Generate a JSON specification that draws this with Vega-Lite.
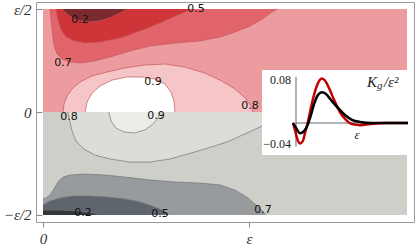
{
  "$schema": "https://vega.github.io/schema/vega-lite/v6.json",
  "width": 378,
  "height": 220,
  "padding": {"left": 36, "top": 2, "right": 1, "bottom": 24},
  "autosize": {"type": "none"},
  "background": "white",
  "config": {"view": {"stroke": "#9a9a9a", "strokeWidth": 1}},
  "datasets": {
    "one": [{}],
    "contours": [
      {"c":"U07","x":0.034,"y":0.5},{"c":"U07","x":0.039,"y":0.447},{"c":"U07","x":0.044,"y":0.398},{"c":"U07","x":0.053,"y":0.325},{"c":"U07","x":0.068,"y":0.282},{"c":"U07","x":0.092,"y":0.257},{"c":"U07","x":0.131,"y":0.243},{"c":"U07","x":0.180,"y":0.238},{"c":"U07","x":0.252,"y":0.248},{"c":"U07","x":0.325,"y":0.267},{"c":"U07","x":0.422,"y":0.296},{"c":"U07","x":0.519,"y":0.320},{"c":"U07","x":0.641,"y":0.335},{"c":"U07","x":0.762,"y":0.345},{"c":"U07","x":0.859,"y":0.364},{"c":"U07","x":0.932,"y":0.388},{"c":"U07","x":1.005,"y":0.417},{"c":"U07","x":1.063,"y":0.451},{"c":"U07","x":1.112,"y":0.485},{"c":"U07","x":1.136,"y":0.5},
      {"c":"U05","x":0.063,"y":0.5},{"c":"U05","x":0.073,"y":0.447},{"c":"U05","x":0.087,"y":0.398},{"c":"U05","x":0.112,"y":0.364},{"c":"U05","x":0.155,"y":0.345},{"c":"U05","x":0.204,"y":0.335},{"c":"U05","x":0.277,"y":0.340},{"c":"U05","x":0.374,"y":0.359},{"c":"U05","x":0.471,"y":0.393},{"c":"U05","x":0.568,"y":0.432},{"c":"U05","x":0.655,"y":0.471},{"c":"U05","x":0.723,"y":0.5},
      {"c":"U02","x":0.092,"y":0.5},{"c":"U02","x":0.121,"y":0.471},{"c":"U02","x":0.160,"y":0.447},{"c":"U02","x":0.218,"y":0.437},{"c":"U02","x":0.277,"y":0.442},{"c":"U02","x":0.335,"y":0.461},{"c":"U02","x":0.383,"y":0.485},{"c":"U02","x":0.408,"y":0.5},
      {"c":"U08","x":0.097,"y":0},{"c":"U08","x":0.102,"y":0.039},{"c":"U08","x":0.117,"y":0.078},{"c":"U08","x":0.141,"y":0.112},{"c":"U08","x":0.180,"y":0.146},{"c":"U08","x":0.238,"y":0.175},{"c":"U08","x":0.311,"y":0.194},{"c":"U08","x":0.398,"y":0.214},{"c":"U08","x":0.495,"y":0.228},{"c":"U08","x":0.592,"y":0.233},{"c":"U08","x":0.689,"y":0.218},{"c":"U08","x":0.786,"y":0.189},{"c":"U08","x":0.869,"y":0.150},{"c":"U08","x":0.932,"y":0.112},{"c":"U08","x":0.981,"y":0.068},{"c":"U08","x":1.010,"y":0.029},{"c":"U08","x":1.019,"y":0},
      {"c":"U09","x":0.204,"y":0},{"c":"U09","x":0.214,"y":0.049},{"c":"U09","x":0.238,"y":0.092},{"c":"U09","x":0.277,"y":0.126},{"c":"U09","x":0.335,"y":0.155},{"c":"U09","x":0.408,"y":0.170},{"c":"U09","x":0.481,"y":0.170},{"c":"U09","x":0.544,"y":0.160},{"c":"U09","x":0.592,"y":0.136},{"c":"U09","x":0.621,"y":0.097},{"c":"U09","x":0.636,"y":0.053},{"c":"U09","x":0.641,"y":0},
      {"c":"L08","x":0.121,"y":0},{"c":"L08","x":0.131,"y":-0.049},{"c":"L08","x":0.141,"y":-0.092},{"c":"L08","x":0.160,"y":-0.141},{"c":"L08","x":0.199,"y":-0.180},{"c":"L08","x":0.252,"y":-0.209},{"c":"L08","x":0.325,"y":-0.228},{"c":"L08","x":0.422,"y":-0.243},{"c":"L08","x":0.519,"y":-0.243},{"c":"L08","x":0.617,"y":-0.228},{"c":"L08","x":0.738,"y":-0.194},{"c":"L08","x":0.893,"y":-0.146},{"c":"L08","x":1.053,"y":-0.073},{"c":"L08","x":1.141,"y":-0.029},{"c":"L08","x":1.199,"y":0},
      {"c":"L09","x":0.320,"y":0},{"c":"L09","x":0.330,"y":-0.044},{"c":"L09","x":0.354,"y":-0.078},{"c":"L09","x":0.393,"y":-0.097},{"c":"L09","x":0.442,"y":-0.102},{"c":"L09","x":0.495,"y":-0.087},{"c":"L09","x":0.534,"y":-0.058},{"c":"L09","x":0.558,"y":-0.029},{"c":"L09","x":0.568,"y":0},
      {"c":"L07","x":0,"y":-0.422},{"c":"L07","x":0.015,"y":-0.417},{"c":"L07","x":0.034,"y":-0.403},{"c":"L07","x":0.053,"y":-0.374},{"c":"L07","x":0.073,"y":-0.340},{"c":"L07","x":0.097,"y":-0.316},{"c":"L07","x":0.131,"y":-0.306},{"c":"L07","x":0.204,"y":-0.301},{"c":"L07","x":0.301,"y":-0.306},{"c":"L07","x":0.398,"y":-0.316},{"c":"L07","x":0.519,"y":-0.330},{"c":"L07","x":0.641,"y":-0.340},{"c":"L07","x":0.762,"y":-0.345},{"c":"L07","x":0.859,"y":-0.354},{"c":"L07","x":0.932,"y":-0.379},{"c":"L07","x":0.995,"y":-0.417},{"c":"L07","x":1.039,"y":-0.456},{"c":"L07","x":1.068,"y":-0.485},{"c":"L07","x":1.083,"y":-0.5},
      {"c":"L05","x":0,"y":-0.451},{"c":"L05","x":0.034,"y":-0.432},{"c":"L05","x":0.083,"y":-0.417},{"c":"L05","x":0.146,"y":-0.408},{"c":"L05","x":0.228,"y":-0.408},{"c":"L05","x":0.311,"y":-0.413},{"c":"L05","x":0.398,"y":-0.422},{"c":"L05","x":0.471,"y":-0.437},{"c":"L05","x":0.529,"y":-0.456},{"c":"L05","x":0.578,"y":-0.476},{"c":"L05","x":0.607,"y":-0.5},
      {"c":"L02","x":0,"y":-0.476},{"c":"L02","x":0.083,"y":-0.476},{"c":"L02","x":0.170,"y":-0.481},{"c":"L02","x":0.238,"y":-0.490},{"c":"L02","x":0.277,"y":-0.5}
    ],
    "labels": [
      {"x":0.18,"y":0.447,"txt":"0.2"},{"x":0.743,"y":0.5,"txt":"0.5"},{"x":0.097,"y":0.238,"txt":"0.7"},{"x":0.534,"y":0.146,"txt":"0.9"},{"x":1.005,"y":0.029,"txt":"0.8"},
      {"x":0.126,"y":-0.024,"txt":"0.8"},{"x":0.549,"y":-0.019,"txt":"0.9"},{"x":0.194,"y":-0.49,"txt":"0.2"},{"x":0.568,"y":-0.495,"txt":"0.5"},{"x":1.068,"y":-0.476,"txt":"0.7"}
    ],
    "curves": [
      {"s":"red","t":0,"v":0},{"s":"red","t":0.017,"v":-0.013},{"s":"red","t":0.035,"v":-0.028},{"s":"red","t":0.061,"v":-0.038},{"s":"red","t":0.087,"v":-0.033},{"s":"red","t":0.104,"v":-0.019},{"s":"red","t":0.130,"v":0.002},{"s":"red","t":0.165,"v":0.037},{"s":"red","t":0.200,"v":0.065},{"s":"red","t":0.226,"v":0.078},{"s":"red","t":0.252,"v":0.083},{"s":"red","t":0.278,"v":0.079},{"s":"red","t":0.313,"v":0.065},{"s":"red","t":0.357,"v":0.043},{"s":"red","t":0.409,"v":0.020},{"s":"red","t":0.461,"v":0.006},{"s":"red","t":0.513,"v":-0.002},{"s":"red","t":0.583,"v":-0.004},{"s":"red","t":0.670,"v":-0.002},{"s":"red","t":0.800,"v":0},{"s":"red","t":1.0,"v":0},
      {"s":"black","t":0,"v":0},{"s":"black","t":0.026,"v":-0.009},{"s":"black","t":0.061,"v":-0.019},{"s":"black","t":0.096,"v":-0.015},{"s":"black","t":0.122,"v":-0.006},{"s":"black","t":0.148,"v":0.009},{"s":"black","t":0.183,"v":0.035},{"s":"black","t":0.217,"v":0.052},{"s":"black","t":0.252,"v":0.057},{"s":"black","t":0.287,"v":0.054},{"s":"black","t":0.330,"v":0.043},{"s":"black","t":0.391,"v":0.028},{"s":"black","t":0.452,"v":0.015},{"s":"black","t":0.513,"v":0.006},{"s":"black","t":0.583,"v":0.002},{"s":"black","t":0.687,"v":0},{"s":"black","t":1.0,"v":0}
    ],
    "insetTicks": [
      {"t":-0.017,"v":0.08,"txt":"0.08"},{"t":-0.017,"v":-0.04,"txt":"−0.04"}
    ]
  },
  "layer": [
    {
      "layer": [
        {
          "data": {"name": "one"},
          "mark": {"type": "rect", "fill": "#ec9c9e"},
          "encoding": {
            "x": {"datum": 0, "type": "quantitative", "scale": {"domain": [-0.034, 1.801], "nice": false, "zero": false},
              "axis": {"title": null, "zindex": 1, "values": [0, 1], "labelExpr": "datum.value == 0 ? '0' : 'ε'", "grid": false, "domain": false, "tickColor": "#888", "tickSize": 5, "labelPadding": 4, "labelFont": "Liberation Serif", "labelFontSize": 15, "labelFontStyle": "italic", "labelColor": "#333"}},
            "x2": {"datum": 1.767},
            "y": {"datum": 0, "type": "quantitative", "scale": {"domain": [-0.534, 0.534], "nice": false, "zero": false},
              "axis": {"title": null, "zindex": 1, "values": [-0.5, 0, 0.5], "labelExpr": "datum.value == 0 ? '0' : (datum.value > 0 ? 'ε/2' : '−ε/2')", "grid": false, "domain": false, "tickColor": "#888", "tickSize": -6, "labelPadding": 11, "labelFont": "Liberation Serif", "labelFontSize": 15, "labelFontStyle": "italic", "labelColor": "#333"}},
            "y2": {"datum": 0.5}
          }
        },
        {
          "data": {"name": "one"},
          "mark": {"type": "rect", "fill": "#cdcfc8"},
          "encoding": {
            "x": {"datum": 0, "type": "quantitative"}, "x2": {"datum": 1.767},
            "y": {"datum": -0.5, "type": "quantitative"}, "y2": {"datum": 0}
          }
        },
        {"data": {"name": "contours"}, "transform": [{"filter": "datum.c == 'U07'"}], "mark": {"type": "area", "fill": "#e0646a"}, "encoding": {"x": {"field": "x", "type": "quantitative"}, "y": {"field": "y", "type": "quantitative"}, "y2": {"datum": 0.5}}},
        {"data": {"name": "contours"}, "transform": [{"filter": "datum.c == 'U05'"}], "mark": {"type": "area", "fill": "#cd3539"}, "encoding": {"x": {"field": "x", "type": "quantitative"}, "y": {"field": "y", "type": "quantitative"}, "y2": {"datum": 0.5}}},
        {"data": {"name": "contours"}, "transform": [{"filter": "datum.c == 'U02'"}], "mark": {"type": "area", "fill": "#7b2b2f"}, "encoding": {"x": {"field": "x", "type": "quantitative"}, "y": {"field": "y", "type": "quantitative"}, "y2": {"datum": 0.5}}},
        {"data": {"name": "contours"}, "transform": [{"filter": "datum.c == 'U08'"}], "mark": {"type": "area", "fill": "#f5c5c7"}, "encoding": {"x": {"field": "x", "type": "quantitative"}, "y": {"field": "y", "type": "quantitative"}, "y2": {"datum": 0}}},
        {"data": {"name": "contours"}, "transform": [{"filter": "datum.c == 'U09'"}], "mark": {"type": "area", "fill": "#ffffff"}, "encoding": {"x": {"field": "x", "type": "quantitative"}, "y": {"field": "y", "type": "quantitative"}, "y2": {"datum": 0}}},
        {"data": {"name": "contours"}, "transform": [{"filter": "datum.c == 'L08'"}], "mark": {"type": "area", "fill": "#dcddd6"}, "encoding": {"x": {"field": "x", "type": "quantitative"}, "y": {"field": "y", "type": "quantitative"}, "y2": {"datum": 0}}},
        {"data": {"name": "contours"}, "transform": [{"filter": "datum.c == 'L09'"}], "mark": {"type": "area", "fill": "#ecede6"}, "encoding": {"x": {"field": "x", "type": "quantitative"}, "y": {"field": "y", "type": "quantitative"}, "y2": {"datum": 0}}},
        {"data": {"name": "contours"}, "transform": [{"filter": "datum.c == 'L07'"}], "mark": {"type": "area", "fill": "#979b9d"}, "encoding": {"x": {"field": "x", "type": "quantitative"}, "y": {"field": "y", "type": "quantitative"}, "y2": {"datum": -0.5}}},
        {"data": {"name": "contours"}, "transform": [{"filter": "datum.c == 'L05'"}], "mark": {"type": "area", "fill": "#5f656c"}, "encoding": {"x": {"field": "x", "type": "quantitative"}, "y": {"field": "y", "type": "quantitative"}, "y2": {"datum": -0.5}}},
        {"data": {"name": "contours"}, "transform": [{"filter": "datum.c == 'L02'"}], "mark": {"type": "area", "fill": "#34373b"}, "encoding": {"x": {"field": "x", "type": "quantitative"}, "y": {"field": "y", "type": "quantitative"}, "y2": {"datum": -0.5}}},
        {"data": {"name": "contours"}, "transform": [{"filter": "substring(datum.c, 0, 1) == 'U'"}], "mark": {"type": "line", "stroke": "#c4565b", "strokeWidth": 0.7}, "encoding": {"x": {"field": "x", "type": "quantitative"}, "y": {"field": "y", "type": "quantitative"}, "detail": {"field": "c"}}},
        {"data": {"name": "contours"}, "transform": [{"filter": "substring(datum.c, 0, 1) == 'L'"}], "mark": {"type": "line", "stroke": "#70757a", "strokeWidth": 0.7}, "encoding": {"x": {"field": "x", "type": "quantitative"}, "y": {"field": "y", "type": "quantitative"}, "detail": {"field": "c"}}},
        {"data": {"name": "labels"}, "mark": {"type": "text", "font": "DejaVu Sans", "fontSize": 11, "color": "#111"}, "encoding": {"x": {"field": "x", "type": "quantitative"}, "y": {"field": "y", "type": "quantitative"}, "text": {"field": "txt"}}},
        {
          "data": {"name": "one"},
          "mark": {"type": "rect", "fill": "white"},
          "encoding": {
            "x": {"datum": 1.063, "type": "quantitative"}, "x2": {"datum": 1.791},
            "y": {"datum": -0.209, "type": "quantitative"}, "y2": {"datum": 0.204}
          }
        }
      ]
    },
    {
      "layer": [
        {
          "data": {"name": "one"},
          "mark": {"type": "rule", "stroke": "#666", "strokeWidth": 1},
          "encoding": {
            "x": {"datum": 0.026, "type": "quantitative", "scale": {"domain": [-2.2348, 1.0522], "nice": false, "zero": false}, "axis": null},
            "x2": {"datum": 1.0},
            "y": {"datum": 0, "type": "quantitative", "scale": {"domain": [-0.18419, 0.22512], "nice": false, "zero": false}, "axis": null}
          }
        },
        {
          "data": {"name": "one"},
          "mark": {"type": "rule", "stroke": "#666", "strokeWidth": 1},
          "encoding": {
            "x": {"datum": 0.026, "type": "quantitative", "axis": null},
            "y": {"datum": -0.044, "type": "quantitative", "axis": null},
            "y2": {"datum": 0.086}
          }
        },
        {"data": {"name": "curves"}, "transform": [{"filter": "datum.s == 'red'"}], "mark": {"type": "line", "stroke": "#c00000", "strokeWidth": 2.5, "interpolate": "monotone"}, "encoding": {"x": {"field": "t", "type": "quantitative", "axis": null}, "y": {"field": "v", "type": "quantitative", "axis": null}}},
        {"data": {"name": "curves"}, "transform": [{"filter": "datum.s == 'black'"}], "mark": {"type": "line", "stroke": "#000000", "strokeWidth": 2.5, "interpolate": "monotone"}, "encoding": {"x": {"field": "t", "type": "quantitative", "axis": null}, "y": {"field": "v", "type": "quantitative", "axis": null}}},
        {"data": {"name": "insetTicks"}, "mark": {"type": "text", "align": "right", "baseline": "middle", "font": "Liberation Serif", "fontSize": 12, "color": "#222"}, "encoding": {"x": {"field": "t", "type": "quantitative", "axis": null}, "y": {"field": "v", "type": "quantitative", "axis": null}, "text": {"field": "txt"}}},
        {"data": {"name": "one"}, "mark": {"type": "text", "font": "Liberation Serif", "fontStyle": "italic", "fontSize": 13, "color": "#222"}, "encoding": {"x": {"datum": 0.557, "type": "quantitative", "axis": null}, "y": {"datum": -0.0223, "type": "quantitative", "axis": null}, "text": {"value": "ε"}}},
        {"data": {"name": "one"}, "mark": {"type": "text", "align": "left", "font": "Liberation Serif", "fontStyle": "italic", "fontSize": 15, "color": "#222"}, "encoding": {"x": {"datum": 0.643, "type": "quantitative", "axis": null}, "y": {"datum": 0.0763, "type": "quantitative", "axis": null}, "text": {"value": "K"}}},
        {"data": {"name": "one"}, "mark": {"type": "text", "align": "left", "font": "Liberation Serif", "fontStyle": "italic", "fontSize": 11, "color": "#222", "dx": 10, "dy": 4}, "encoding": {"x": {"datum": 0.643, "type": "quantitative", "axis": null}, "y": {"datum": 0.0763, "type": "quantitative", "axis": null}, "text": {"value": "g"}}},
        {"data": {"name": "one"}, "mark": {"type": "text", "align": "left", "font": "Liberation Serif", "fontStyle": "italic", "fontSize": 15, "color": "#222", "dx": 17}, "encoding": {"x": {"datum": 0.643, "type": "quantitative", "axis": null}, "y": {"datum": 0.0763, "type": "quantitative", "axis": null}, "text": {"value": "/ε²"}}}
      ]
    }
  ],
  "resolve": {"scale": {"x": "independent", "y": "independent"}}
}
